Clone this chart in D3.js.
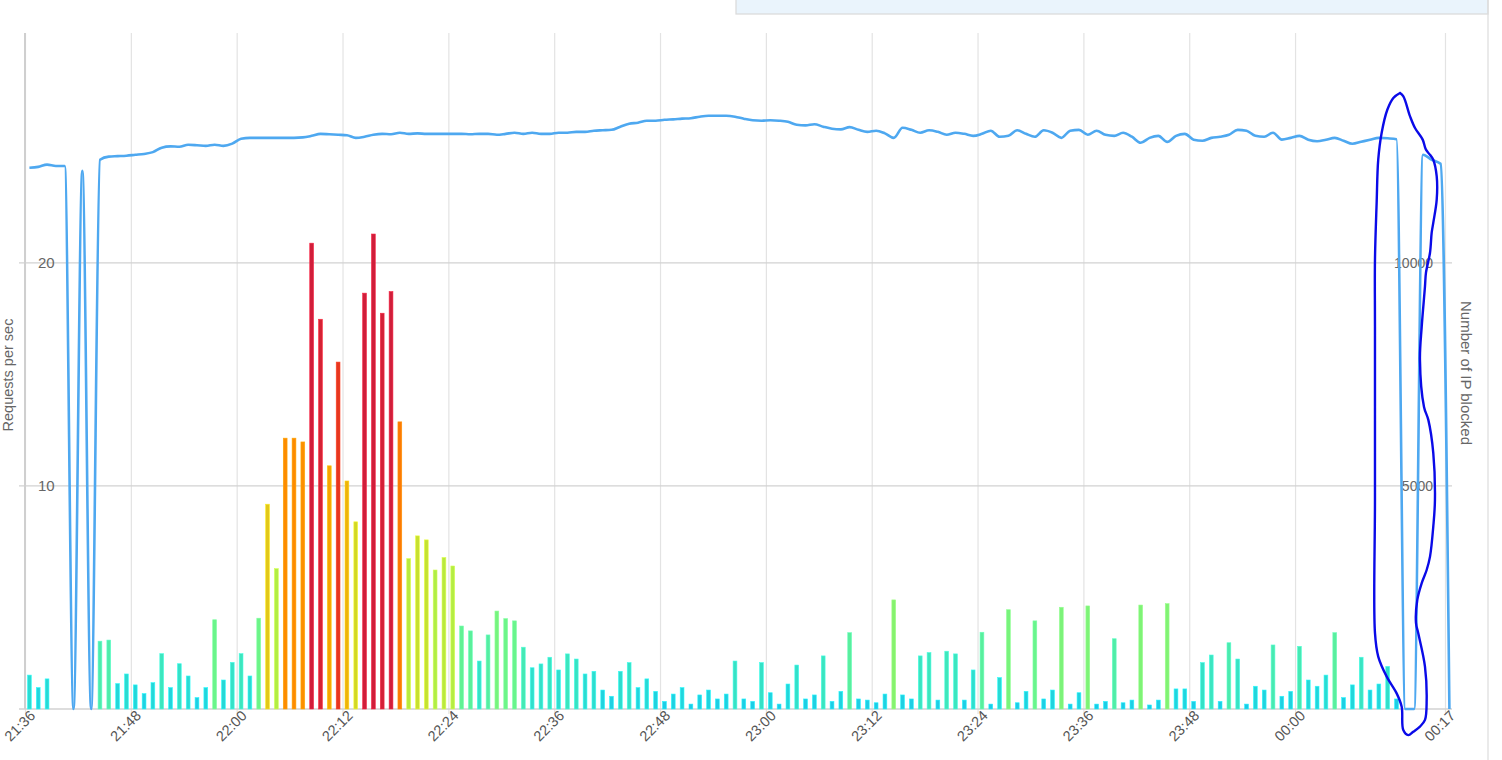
<!DOCTYPE html>
<html>
<head>
<meta charset="utf-8">
<script src="https://cdn.jsdelivr.net/npm/d3@7/dist/d3.min.js"></script>
<style>
  html, body { margin: 0; padding: 0; background: #fff; }
  svg { display: block; font-family: "Liberation Sans", Arial, Helvetica, sans-serif; }
</style>
</head>
<body>
<svg id="chart" width="1502" height="760"></svg>
<script>
// ---------- DATA ----------
const startTime = "21:36";
const endTime = "00:17";
const tickLabels = ["21:36","21:48","22:00","22:12","22:24","22:36","22:48","23:00","23:12","23:24","23:36","23:48","00:00","00:17"];
const leftTicks = [10, 20];
const rightTicks = [5000, 10000];
const leftTitle = "Requests per sec";
const rightTitle = "Number of IP blocked";

// requests per second, one bar per minute starting 21:36
const requestsPerSec = [
  1.52, 0.96, 1.35, 0, 0, 0, 0, 0, 3.04, 3.09,
  1.14, 1.57, 1.08, 0.69, 1.18, 2.48, 0.96, 2.03, 1.48, 0.51,
  0.96, 4.0, 1.30, 2.09, 2.48, 1.48, 4.07, 9.18, 6.29, 12.14,
  12.14, 11.97, 20.88, 17.47, 10.9, 15.55, 10.22, 8.39, 18.64, 21.29,
  17.74, 18.71, 12.87, 6.74, 7.76, 7.58, 6.23, 6.79, 6.41, 3.72,
  3.50, 2.15, 3.32, 4.39, 4.05, 3.95, 2.77, 1.85, 2.02, 2.32,
  1.75, 2.47, 2.24, 1.57, 1.69, 0.85, 0.57, 1.69, 2.08, 0.96,
  1.35, 0.79, 0.34, 0.67, 0.96, 0.22, 0.63, 0.85, 0.45, 0.67,
  2.15, 0.45, 0.34, 2.08, 0.73, 0.22, 1.12, 1.97, 0.45, 0.63,
  2.38, 0.34, 0.79, 3.42, 0.45, 0.40, 0.28, 0.67, 4.89, 0.63,
  0.45, 2.38, 2.53, 0.40, 2.59, 2.47, 0.40, 1.75, 3.44, 0.22,
  1.41, 4.45, 0.28, 0.79, 3.95, 0.45, 0.85, 4.56, 0.22, 0.73,
  4.62, 0.22, 0.34, 3.15, 0.28, 0.40, 4.66, 0.18, 0.40, 4.72,
  0.90, 0.90, 0.34, 2.08, 2.42, 0.34, 2.97, 2.24, 0.22, 1.02,
  0.85, 2.87, 0.57, 0.79, 2.81, 1.30, 1.02, 1.52, 3.42, 0.51,
  1.08, 2.32, 0.85, 1.12, 1.91, 0.45
];

// number of IP blocked, one point per minute starting 21:36
const ipBlocked = [
  12130, 12150, 12200, 12170, 12170, 0, 12060, 0, 12310, 12380,
  12390, 12400, 12420, 12440, 12480, 12580, 12610, 12600, 12645, 12635,
  12620, 12645, 12620, 12670, 12780, 12800, 12800, 12800, 12800, 12800,
  12800, 12810, 12845, 12890, 12880, 12870, 12860, 12800, 12825, 12870,
  12890, 12880, 12915, 12890, 12900, 12890, 12890, 12890, 12890, 12890,
  12880, 12890, 12890, 12870, 12890, 12915, 12890, 12915, 12890, 12890,
  12915, 12915, 12935, 12935, 12960, 12970, 12980, 13050, 13115, 13140,
  13185, 13185, 13205, 13215, 13230, 13240, 13275, 13295, 13295, 13295,
  13275, 13230, 13195, 13185, 13195, 13185, 13160, 13095, 13080, 13105,
  13050, 13005, 12990, 13040, 12980, 12935, 12960, 12900, 12800, 13025,
  12980, 12915, 12970, 12935, 12870, 12915, 12890, 12845, 12890, 12960,
  12825, 12845, 12970, 12890, 12825, 12970, 12915, 12800, 12960, 12980,
  12870, 12960, 12870, 12845, 12915, 12825, 12690, 12800, 12845, 12710,
  12845, 12890, 12760, 12735, 12800, 12825, 12870, 12980, 12960, 12845,
  12825, 12915, 12760, 12800, 12845, 12757, 12723, 12757, 12800, 12735,
  12667, 12712, 12757, 12800, 12790, 12770, 0, 0, 12420, 12310,
  12220, 0
];

// hand-drawn annotation loop: [minutes after 21:36, requests-per-sec scale value]
const annotation = [
  [155.90, 27.61], [155.14, 27.39], [154.46, 26.86], [153.82, 25.83], [153.43, 24.62],
  [153.25, 22.69], [153.06, 20.13], [153.06, 17.13], [153.06, 9.37], [153.06, 3.41],
  [153.43, 2.35], [154.39, 1.45], [155.52, 0.70], [156.09, 0.10], [156.27, -0.94],
  [156.84, -1.17], [157.40, -1.02], [158.16, -0.79], [158.73, -0.49], [158.92, 0.40],
  [158.73, 1.90], [157.97, 3.39], [157.71, 3.86], [157.86, 4.89], [158.36, 5.64],
  [158.92, 6.23], [159.30, 6.83], [159.67, 8.17], [159.86, 9.37], [159.67, 11.48],
  [159.11, 12.96], [158.62, 13.54], [158.16, 15.65], [158.36, 17.14], [158.73, 18.94],
  [158.84, 19.55], [159.30, 20.45], [159.49, 21.35], [159.67, 21.79], [160.06, 22.83],
  [160.06, 23.87], [159.67, 24.62], [159.30, 24.84], [158.84, 25.07], [158.47, 25.52],
  [157.60, 26.04], [157.04, 26.56], [156.28, 27.46], [155.90, 27.61]
];

// bar colour stops (by requests per sec)
const colorStops = [0.2, 1, 2.5, 4, 6.3, 8, 9.2, 11, 12.5, 15.5, 18];
const colorValues = ['#1ccbe8','#22d5dc','#3de6be','#6af58a','#b2ee44','#cade2e','#e2c81a','#f7a300','#ff8400','#e6361e','#d01e3a'];

// ---------- HELPERS ----------
function parseHM(s, baseDay) {
  const [h, m] = s.split(":").map(Number);
  const day = h < 12 ? baseDay + 1 : baseDay;
  return new Date(2020, 0, day, h, m, 0);
}
const t0 = parseHM(startTime, 1);
const t1 = parseHM(endTime, 1);
const minuteToDate = m => new Date(t0.getTime() + m * 60000);

// ---------- LAYOUT ----------
const W = 1502, H = 760;
const plot = { left: 25, right: 1445, top: 33, bottom: 709 };
const svg = d3.select("#chart");

const x = d3.scaleTime().domain([t0, t1]).range([plot.left, plot.right]);
const yL = d3.scaleLinear().domain([0, 30.3]).range([plot.bottom, plot.top]);
const yR = d3.scaleLinear().domain([0, 30.3 * 500]).range([plot.bottom, plot.top]);
const color = d3.scaleLinear().domain(colorStops).range(colorValues).clamp(true);

// top box
svg.append("rect").attr("x", 736).attr("y", -2).attr("width", 752).attr("height", 16)
  .attr("fill", "#eaf4fc").attr("stroke", "#d9d9d9").attr("stroke-width", 1.2);
svg.append("line").attr("x1", 1488).attr("x2", 1488).attr("y1", 0).attr("y2", H)
  .attr("stroke", "#dcdcdc").attr("stroke-width", 1.2);

// vertical gridlines
const tickDates = tickLabels.map(s => parseHM(s, 1));
const xAxis = d3.axisBottom(x).tickValues(tickDates)
  .tickFormat((d, i) => tickLabels[i]).tickSize(-(plot.bottom - plot.top)).tickSizeOuter(0);
const gx = svg.append("g").attr("transform", `translate(0,${plot.bottom})`).call(xAxis);
gx.select(".domain").remove();
gx.selectAll(".tick line").attr("stroke", "#e3e3e3").attr("stroke-width", 1.2).attr("y2", -(plot.bottom - plot.top)).attr("y1", 5);
gx.selectAll(".tick text")
  .attr("fill", "#555").attr("font-size", 14.5)
  .attr("text-anchor", "end")
  .attr("transform", "translate(7,4) rotate(-45)")
  .attr("x", 0).attr("y", 0).attr("dy", "0.35em");

// horizontal gridlines
const hVals = [0].concat(leftTicks);
svg.append("g").selectAll("line").data(hVals).join("line")
  .attr("x1", plot.left - 6).attr("x2", plot.right + 7)
  .attr("y1", d => yL(d)).attr("y2", d => yL(d))
  .attr("stroke", "#d2d2d2").attr("stroke-width", 1.3);

// left axis line
svg.append("line").attr("x1", plot.left).attr("x2", plot.left)
  .attr("y1", plot.top).attr("y2", plot.bottom)
  .attr("stroke", "#cfcfcf").attr("stroke-width", 2);

// left tick labels
svg.append("g").selectAll("text").data(leftTicks).join("text")
  .attr("x", plot.left + 13).attr("y", d => yL(d)).attr("dy", "0.35em")
  .attr("fill", "#666").attr("font-size", 15).text(d => d);

// right tick labels
svg.append("g").selectAll("text").data(rightTicks).join("text")
  .attr("x", plot.right - 12).attr("y", d => yR(d)).attr("dy", "0.35em")
  .attr("text-anchor", "end").attr("fill", "#666").attr("font-size", 14).text(d => d);

// axis titles
svg.append("text").attr("transform", `translate(13,${(plot.top + plot.bottom) / 2 + 4}) rotate(-90)`)
  .attr("text-anchor", "middle").attr("fill", "#666").attr("font-size", 14.5).text(leftTitle);
svg.append("text").attr("transform", `translate(1461,${(plot.top + plot.bottom) / 2 + 2}) rotate(90)`)
  .attr("text-anchor", "middle").attr("fill", "#666").attr("font-size", 15).text(rightTitle);

// bars
const barW = 3.8;
svg.append("g").selectAll("rect").data(requestsPerSec).join("rect")
  .attr("x", (d, i) => x(minuteToDate(i + 0.5)) - barW / 2)
  .attr("width", barW)
  .attr("y", d => yL(d))
  .attr("height", d => yL(0) - yL(d))
  .attr("fill", d => color(d))
  .attr("stroke", d => d3.color(color(d)).brighter(0.5))
  .attr("stroke-width", 0.6);

// IP blocked line
const line = d3.line()
  .x((d, i) => x(minuteToDate(i + 0.5)))
  .y(d => yR(d))
  .curve(d3.curveMonotoneX);
svg.append("path").datum(ipBlocked).attr("d", line)
  .attr("fill", "none").attr("stroke", "#4ea8f0").attr("stroke-width", 2.6)
  .attr("stroke-linejoin", "round");

// annotation
const annLine = d3.line()
  .x(d => x(minuteToDate(d[0])))
  .y(d => yL(d[1]))
  .curve(d3.curveCatmullRom.alpha(0.5));
svg.append("path").datum(annotation).attr("d", annLine)
  .attr("fill", "none").attr("stroke", "#0a0ae8").attr("stroke-width", 2.4)
  .attr("stroke-linejoin", "round").attr("stroke-linecap", "round");
</script>
</body>
</html>
